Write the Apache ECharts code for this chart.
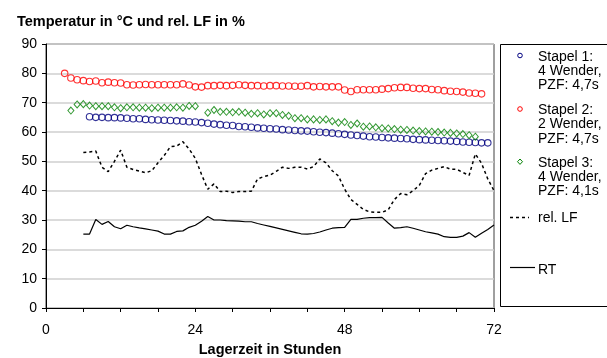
<!DOCTYPE html>
<html>
<head>
<meta charset="utf-8">
<script src="https://cdn.jsdelivr.net/npm/echarts@6/dist/echarts.min.js"></script>
<style>
html,body{margin:0;padding:0;background:#fff;}
#chart{width:607px;height:358px;}
</style>
</head>
<body>
<div id="chart"></div>
<script>
// ---- data (hourly values) ----
const stapel1Start = 7;
const stapel1 = [65.2,65.0,65.0,64.9,64.9,64.8,64.7,64.5,64.5,64.3,64.2,64.1,64.0,63.9,63.8,63.7,63.5,63.4,63.2,63.0,
  62.7,62.5,62.3,62.2,61.9,61.8,61.6,61.4,61.3,61.1,61.0,60.8,60.7,60.5,60.4,60.3,60.1,59.9,59.8,59.6,
  59.4,59.2,59.0,58.8,58.6,58.4,58.3,58.1,58.0,57.9,57.8,57.7,57.5,57.4,57.3,57.2,57.1,57.0,56.9,56.8,
  56.6,56.5,56.4,56.3,56.3];
const stapel2Start = 3;
const stapel2 = [80.0,78.4,77.8,77.5,77.2,77.4,76.8,77.0,76.8,76.7,76.1,76.0,76.1,76.2,76.1,76.1,76.1,76.1,76.1,76.4,
  76.0,75.4,75.3,75.8,75.8,75.9,75.8,75.9,76.1,75.9,75.8,75.8,75.7,75.8,75.8,75.7,75.7,75.6,75.6,75.8,
  75.4,75.5,75.4,75.4,75.4,74.3,73.8,74.4,74.4,74.4,74.4,74.6,74.8,75.1,75.2,75.2,74.9,74.8,74.8,74.5,
  74.4,74.1,73.9,73.8,73.6,73.3,73.2,73.0];
const stapel3Start = 4;
const stapel3 = [67.3,69.4,69.5,69.0,68.8,68.8,68.8,68.4,68.1,68.4,68.4,68.3,68.3,68.1,68.3,68.3,68.3,68.4,68.3,68.9,
  68.8,null,66.6,67.5,66.9,66.9,66.7,66.9,66.6,66.2,66.4,66.0,66.4,66.4,65.8,65.5,64.7,64.7,64.3,64.3,
  64.1,64.3,63.7,63.2,63.4,62.4,62.9,61.8,61.9,61.6,61.3,61.2,61.0,60.8,60.7,60.5,60.3,60.2,60.1,60.0,
  59.8,59.7,59.5,59.3,58.9,58.4];
const relLFStart = 6;
const relLF = [53.0,53.2,53.5,48.0,46.5,50.0,53.8,48.0,47.2,46.7,46.1,46.8,49.5,52.0,55.0,55.2,56.7,54.2,51.0,45.5,
  40.5,42.3,39.7,39.8,39.4,39.7,39.7,39.8,44.0,44.8,45.3,46.6,48.0,47.6,48.0,48.0,47.4,48.2,50.8,49.5,
  46.8,45.0,40.5,37.0,35.3,33.6,32.8,32.6,32.6,33.5,37.0,39.0,38.6,40.0,41.8,45.8,47.0,47.6,48.2,47.3,
  47.3,46.2,45.2,52.5,49.3,44.0,40.0];
const rtStart = 6;
const rt = [25.2,25.2,30.2,28.5,29.5,27.7,27.0,28.2,27.7,27.3,27.0,26.6,26.2,25.2,25.2,26.1,26.3,27.5,28.2,29.6,
  31.2,30.0,30.0,29.8,29.7,29.6,29.4,29.4,28.8,28.3,27.8,27.3,26.8,26.3,25.8,25.3,25.2,25.4,25.9,26.6,
  27.2,27.4,27.5,30.2,30.2,30.6,30.8,30.8,30.9,29.0,27.2,27.4,27.7,27.2,26.6,26.0,25.6,25.2,24.3,24.1,
  24.1,24.5,25.7,24.1,25.5,26.8,28.3];
const seriesNames = ['Stapel 1:\n4 Wender,\nPZF: 4,7s','Stapel 2:\n2 Wender,\nPZF: 4,7s','Stapel 3:\n4 Wender,\nPZF: 4,1s','rel. LF','RT'];
const xLabelValues = [0, 24, 48, 72];
const titleText = 'Temperatur in °C und rel. LF in %';
const xAxisTitle = 'Lagerzeit in Stunden';

function pairs(start, arr) {
  return arr.map((v, i) => [start + i, v]).filter(p => p[1] !== null);
}

const FONT = 'Liberation Sans, Arial, sans-serif';
const c1 = '#000080', c2 = '#ff0000', c3 = '#008000';

const chart = echarts.init(document.getElementById('chart'), null, {renderer: 'canvas'});

function legendText(txt, y) {
  return {type: 'text', x: 538, y: y, style: {text: txt, font: '14px ' + FONT, fill: '#000', lineHeight: 14.3, verticalAlign: 'top', align: 'left'}};
}

chart.setOption({
  animation: false,
  backgroundColor: '#fff',
  title: {
    text: titleText, left: 12, top: 9,
    textStyle: {fontFamily: FONT, fontSize: 14.5, fontWeight: 'bold', color: '#000'}
  },
  grid: {left: 46, right: 113, top: 44, bottom: 50, show: true, borderColor: '#404040', borderWidth: 1,
    backgroundColor: 'transparent', containLabel: false, outerBoundsMode: 'none'},
  xAxis: {
    type: 'value', min: 0, max: 72, interval: 6,
    name: xAxisTitle, nameLocation: 'middle', nameGap: 34,
    nameTextStyle: {fontFamily: FONT, fontSize: 14.5, fontWeight: 'bold', color: '#000'},
    axisLine: {show: true, onZero: false, lineStyle: {color: '#000', width: 1}},
    axisTick: {show: true, inside: false, length: 4, lineStyle: {color: '#000'}},
    axisLabel: {margin: 15, fontFamily: FONT, fontSize: 14, color: '#000',
      formatter: v => (xLabelValues.indexOf(v) >= 0 ? String(v) : '')},
    splitLine: {show: false}
  },
  yAxis: {
    type: 'value', min: 0, max: 90, interval: 10,
    axisLine: {show: true, lineStyle: {color: '#000', width: 1}},
    axisTick: {show: true, inside: false, length: 4, lineStyle: {color: '#000'}},
    axisLabel: {margin: 9, fontFamily: FONT, fontSize: 14, color: '#000'},
    splitLine: {show: true, lineStyle: {color: '#cfcfcf', width: 1.5}}
  },
  series: [
    {name: seriesNames[0], type: 'scatter', data: pairs(stapel1Start, stapel1), symbol: 'circle', symbolSize: 6.5,
      itemStyle: {color: 'rgba(0,0,0,0)', borderColor: c1, borderWidth: 1.1}, z: 3},
    {name: seriesNames[1], type: 'scatter', data: pairs(stapel2Start, stapel2), symbol: 'circle', symbolSize: 6.5,
      itemStyle: {color: 'rgba(0,0,0,0)', borderColor: c2, borderWidth: 1.1}, z: 3},
    {name: seriesNames[2], type: 'scatter', data: pairs(stapel3Start, stapel3), symbol: 'diamond', symbolSize: [6, 7],
      itemStyle: {color: 'rgba(0,0,0,0)', borderColor: c3, borderWidth: 1}, z: 3},
    {name: seriesNames[3], type: 'line', data: pairs(relLFStart, relLF), showSymbol: false, symbol: 'none',
      lineStyle: {color: '#000', width: 1.5, type: [3, 3]}, z: 2},
    {name: seriesNames[4], type: 'line', data: pairs(rtStart, rt), showSymbol: false, symbol: 'none',
      lineStyle: {color: '#000', width: 1.2}, z: 2}
  ],
  graphic: [
    {type: 'rect', shape: {x: 500.5, y: 44.5, width: 130, height: 262}, style: {fill: '#fff', stroke: '#000', lineWidth: 1}},
    {type: 'circle', shape: {cx: 520, cy: 55.5, r: 2.3}, style: {fill: 'none', stroke: c1, lineWidth: 1}},
    legendText(seriesNames[0], 49.5),
    {type: 'circle', shape: {cx: 520, cy: 109, r: 2.3}, style: {fill: 'none', stroke: c2, lineWidth: 1}},
    legendText(seriesNames[1], 103),
    {type: 'polygon', shape: {points: [[520, 159], [522.5, 161.7], [520, 164.4], [517.5, 161.7]]}, style: {fill: 'none', stroke: c3, lineWidth: 1}},
    legendText(seriesNames[2], 155.5),
    {type: 'line', shape: {x1: 510, y1: 217.5, x2: 529, y2: 217.5}, style: {stroke: '#000', lineWidth: 1.5, lineDash: [3, 3]}},
    legendText(seriesNames[3], 211),
    {type: 'line', shape: {x1: 510, y1: 267.5, x2: 535, y2: 267.5}, style: {stroke: '#000', lineWidth: 1.2}},
    legendText(seriesNames[4], 262.5)
  ]
});
</script>
</body>
</html>
